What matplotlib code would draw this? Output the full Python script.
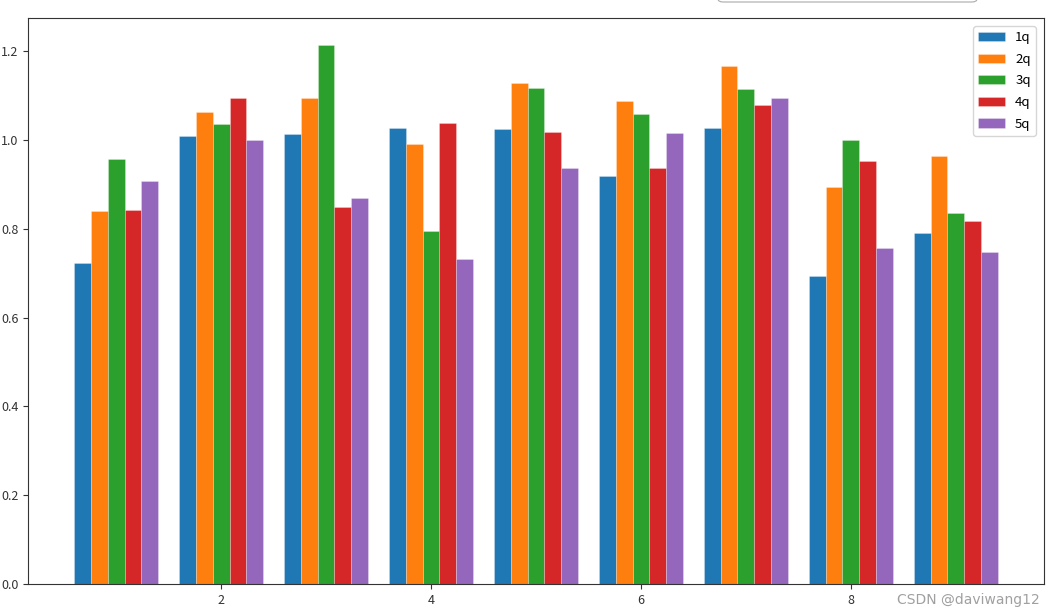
import matplotlib
matplotlib.use("Agg")
import matplotlib.pyplot as plt
import numpy as np
from matplotlib.patches import FancyBboxPatch

plt.rcParams['font.family'] = ['Noto Sans CJK SC', 'DejaVu Sans']

groups = [1, 2, 3, 4, 5, 6, 7, 8, 9]
labels = ['1q', '2q', '3q', '4q', '5q']
q1 = [0.722, 1.009, 1.014, 1.026, 1.024, 0.918, 1.028, 0.693, 0.791]
q2 = [0.839, 1.062, 1.094, 0.992, 1.129, 1.088, 1.167, 0.894, 0.965]
q3 = [0.957, 1.036, 1.214, 0.795, 1.117, 1.059, 1.114, 0.999, 0.835]
q4 = [0.842, 1.094, 0.848, 1.038, 1.018, 0.936, 1.079, 0.953, 0.818]
q5 = [0.907, 1.000, 0.869, 0.732, 0.938, 1.015, 1.094, 0.757, 0.748]
series = [q1, q2, q3, q4, q5]
colors = ['#1f77b4', '#ff7f0e', '#2ca02c', '#d62728', '#9467bd']

fig = plt.figure(figsize=(10.56, 6.11), dpi=100)
ax = fig.add_axes([0.0265, 0.0442, 0.9621, 0.9263])

w = 0.16
x = np.array(groups, dtype=float)
for i, (vals, lab, c) in enumerate(zip(series, labels, colors)):
    ax.bar(x + (i - 2) * w, vals, width=w, color=c, label=lab,
           edgecolor=(1, 1, 1, 0.45), linewidth=0.4)

ax.set_xticks([2, 4, 6, 8])
ax.tick_params(labelsize=9, colors='#333333', length=3.5)
for s in ax.spines.values():
    s.set_color('#333333')
ax.legend(loc='upper right', fontsize=9.5, handlelength=2.0,
          labelspacing=0.65, borderaxespad=0.6)

# screenshot artifacts: popup edge and watermark
box = FancyBboxPatch((718 / 1056, 1 - 2 / 611), 259 / 1056, 0.03,
                     boxstyle='round,pad=0,rounding_size=0.005',
                     transform=fig.transFigure, facecolor='white',
                     edgecolor='#aaaaaa', linewidth=0.8, clip_on=False)
fig.patches.append(box)
fig.text(0.985, 0.018, 'CSDN @daviwang12', ha='right', va='center',
         fontsize=10, color='#a0a0a0', family=['DejaVu Sans'])

fig.savefig('out.png', dpi=100)
